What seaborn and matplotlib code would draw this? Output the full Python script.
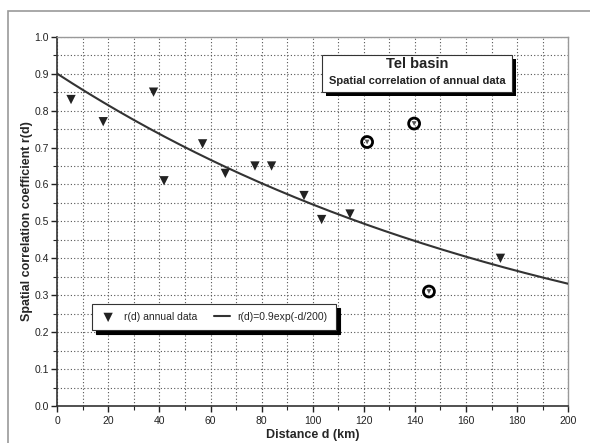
import numpy as np
import pandas as pd
import matplotlib
matplotlib.use("Agg")
import matplotlib.pyplot as plt
import matplotlib.patheffects as pe
from matplotlib.ticker import MultipleLocator, FormatStrFormatter
import seaborn as sns

# Data
distance = [5.4, 18.0, 37.7, 41.8, 56.9, 65.8, 77.4, 83.9, 96.6, 103.5, 114.6, 121.3, 139.7, 145.5, 173.5]
r_annual = [0.83, 0.77, 0.85, 0.61, 0.71, 0.63, 0.65, 0.65, 0.57, 0.505, 0.52, 0.715, 0.765, 0.31, 0.40]
circled = [False, False, False, False, False, False, False, False, False, False, False, True, True, True, False]

# fitted model from the legend: r(d) = r0 * exp(-d / L)
r0 = 0.9
L = 200
d_fit = np.linspace(0, 200, 201)
r_fit = r0 * np.exp(-d_fit / L)

df = pd.DataFrame({"d": distance, "r": r_annual, "circled": circled})
fit = pd.DataFrame({"d": d_fit, "r": r_fit})
normal = df[~df["circled"]]
outl = df[df["circled"]]

sns.set_style("white")
plt.rcParams["font.family"] = ["Liberation Sans", "DejaVu Sans"]

fig = plt.figure(figsize=(5.9, 4.43), dpi=100)
ax = fig.add_axes([0.097, 0.0835, 0.866, 0.8335])

# outer frame (only left and top edges show)
fig.patches.append(plt.Rectangle((0.0135, -0.1), 1.2, 1.075, transform=fig.transFigure,
                                 fill=False, edgecolor="#9a9a9a", linewidth=1.2))

sns.lineplot(data=fit, x="d", y="r", ax=ax, color="#333333", linewidth=1.5,
             label="r(d)=0.9exp(-d/200)", zorder=3)
sns.scatterplot(data=normal, x="d", y="r", ax=ax, marker="v", color="#222222", s=45,
                edgecolor="none", label="r(d) annual data", zorder=4)
sns.scatterplot(data=outl, x="d", y="r", ax=ax, marker="v", color="#555555", s=12,
                edgecolor="none", zorder=4, legend=False)
sns.scatterplot(data=outl, x="d", y="r", ax=ax, marker="o", s=62,
                facecolor="none", edgecolor="black", linewidth=2.0, zorder=4, legend=False)

ax.set_xlim(0, 200)
ax.set_ylim(0, 1.0)
ax.xaxis.set_major_locator(MultipleLocator(20))
ax.xaxis.set_minor_locator(MultipleLocator(10))
ax.yaxis.set_major_locator(MultipleLocator(0.1))
ax.yaxis.set_minor_locator(MultipleLocator(0.05))
ax.yaxis.set_major_formatter(FormatStrFormatter("%.1f"))
ax.grid(True, which="both", linestyle=(0, (1, 2)), color="#555555", linewidth=0.8)
ax.tick_params(which="major", direction="out", length=4, width=1, labelsize=7.5,
               colors="#222222", bottom=True, left=True)
ax.tick_params(axis="y", which="major", pad=2)
ax.tick_params(which="minor", direction="out", length=3, width=0.8, bottom=True, left=True)
for side in ["left", "bottom"]:
    ax.spines[side].set_color("#333333")
    ax.spines[side].set_linewidth(1.2)
for side in ["top", "right"]:
    ax.spines[side].set_color("#999999")
    ax.spines[side].set_linewidth(1.0)

ax.set_xlabel("Distance d (km)", fontsize=9, fontweight="bold", labelpad=2)
ax.set_ylabel("Spatial correlation coefficient r(d)", fontsize=9, fontweight="bold", labelpad=1)

# legend with black shadow
handles, labels = ax.get_legend_handles_labels()
handles = [handles[1], handles[0]]
labels = [labels[1], labels[0]]
leg = ax.legend(handles, labels, ncol=2, loc="lower left", bbox_to_anchor=(0.068, 0.206),
                fontsize=7.5, frameon=True, fancybox=False, edgecolor="#333333",
                framealpha=1, borderpad=0.75, handlelength=1.6, handletextpad=0.7,
                columnspacing=1.6, borderaxespad=0,
                shadow={"color": "black", "ox": 3, "oy": -3, "alpha": 1})
leg.get_frame().set_linewidth(0.8)

# title box with shadow
box = plt.Rectangle((0.518, 0.851), 0.372, 0.1, transform=ax.transAxes, facecolor="white",
                    edgecolor="#333333", linewidth=0.8, zorder=5)
box.set_path_effects([pe.SimplePatchShadow(offset=(3, -3), shadow_rgbFace="black", alpha=1),
                      pe.Normal()])
ax.add_patch(box)
ax.text(0.704, 0.926, "Tel basin", transform=ax.transAxes, ha="center", va="center",
        fontsize=10.5, fontweight="bold", color="#222222", zorder=6)
ax.text(0.704, 0.88, "Spatial correlation of annual data", transform=ax.transAxes,
        ha="center", va="center", fontsize=8, fontweight="bold", color="#222222", zorder=6)

fig.savefig("out.png", dpi=100)
